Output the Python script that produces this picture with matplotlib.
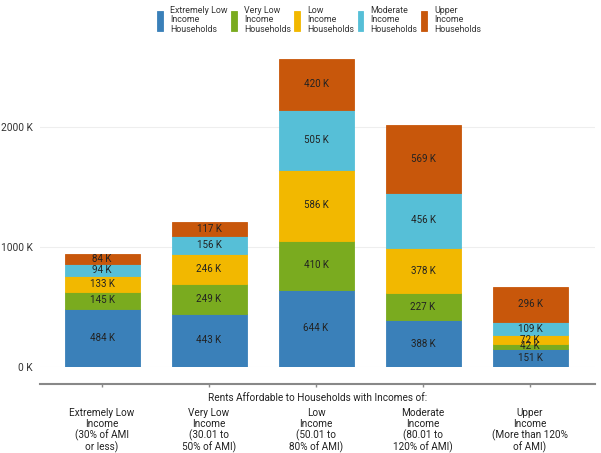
import matplotlib
matplotlib.use("Agg")
import matplotlib.pyplot as plt
import numpy as np

plt.rcParams['font.family'] = ['Roboto', 'DejaVu Sans']

categories = ["Extremely Low\nIncome\n(30% of AMI\nor less)",
              "Very Low\nIncome\n(30.01 to\n50% of AMI)",
              "Low\nIncome\n(50.01 to\n80% of AMI)",
              "Moderate\nIncome\n(80.01 to\n120% of AMI)",
              "Upper\nIncome\n(More than 120%\nof AMI)"]
series_names = ["Extremely Low\nIncome\nHouseholds",
                "Very Low\nIncome\nHouseholds",
                "Low\nIncome\nHouseholds",
                "Moderate\nIncome\nHouseholds",
                "Upper\nIncome\nHouseholds"]
extremely_low = [484, 443, 644, 388, 151]
very_low = [145, 249, 410, 227, 42]
low = [133, 246, 586, 378, 72]
moderate = [94, 156, 505, 456, 109]
upper = [84, 117, 420, 569, 296]
series = [extremely_low, very_low, low, moderate, upper]
colors = ["#3a80b9", "#7aab1f", "#f2b800", "#56bfd7", "#c8570b"]
yticks = [0, 1000, 2000]
ytick_labels = ["0 K", "1000 K", "2000 K"]
xlabel = "Rents Affordable to Households with Incomes of:"

W, H = 601, 453
fig = plt.figure(figsize=(W/100, H/100), dpi=100)
left, right, bottom, top = 40, 595, 367, 50
ax = fig.add_axes([left/W, 1 - bottom/H, (right-left)/W, (bottom-top)/H])

x = np.arange(len(categories))
base = np.zeros(len(categories))
handles = []
for vals, col, name in zip(series, colors, series_names):
    vals = np.array(vals, dtype=float)
    bars = ax.bar(x, vals, bottom=base, width=0.7, color=col, edgecolor=col,
                  linewidth=0.6, label=name, zorder=2)
    handles.append(bars)
    for xi, b, v in zip(x, base, vals):
        ax.text(xi, b + v/2, f"{int(v)} K", ha='center', va='center',
                fontsize=7, color='#222222', zorder=3)
    base += vals

ax.set_xlim(-0.58, 4.607)
ax.set_ylim(0, 2642)
ax.set_yticks(yticks)
ax.set_yticklabels(ytick_labels)
ax.grid(axis='y', color='#eeeeee', linewidth=0.8, zorder=0)
ax.set_axisbelow(True)
for s in ['top', 'right', 'left']:
    ax.spines[s].set_visible(False)
ax.spines['bottom'].set_position(('outward', 12.2))
ax.spines['bottom'].set_color('#888888')
ax.spines['bottom'].set_linewidth(1.5)
ax.tick_params(axis='y', length=0, labelsize=7.3, labelcolor='#333333', pad=5)
ax.tick_params(axis='x', length=2.5, width=1, color='#888888', labelsize=7.2,
               labelcolor='#222222', pad=15)
ax.set_xticks(x)
ax.set_xticklabels(categories, linespacing=1.08)
ax.text(0.5, -0.098, xlabel, transform=ax.transAxes, ha='center', va='center',
        fontsize=7.2, color='#222222')

leg = fig.legend(handles=handles, labels=series_names, loc='upper left',
                 bbox_to_anchor=(149/W, 1 + 2/H), ncol=5, frameon=False,
                 fontsize=6.4, handlelength=0.66, handleheight=3.1,
                 handletextpad=0.8, columnspacing=0.38, labelspacing=0.2)
for t in leg.get_texts():
    t.set_linespacing(1.07)
    t.set_color('#333333')

fig.savefig("out.png", dpi=100)
